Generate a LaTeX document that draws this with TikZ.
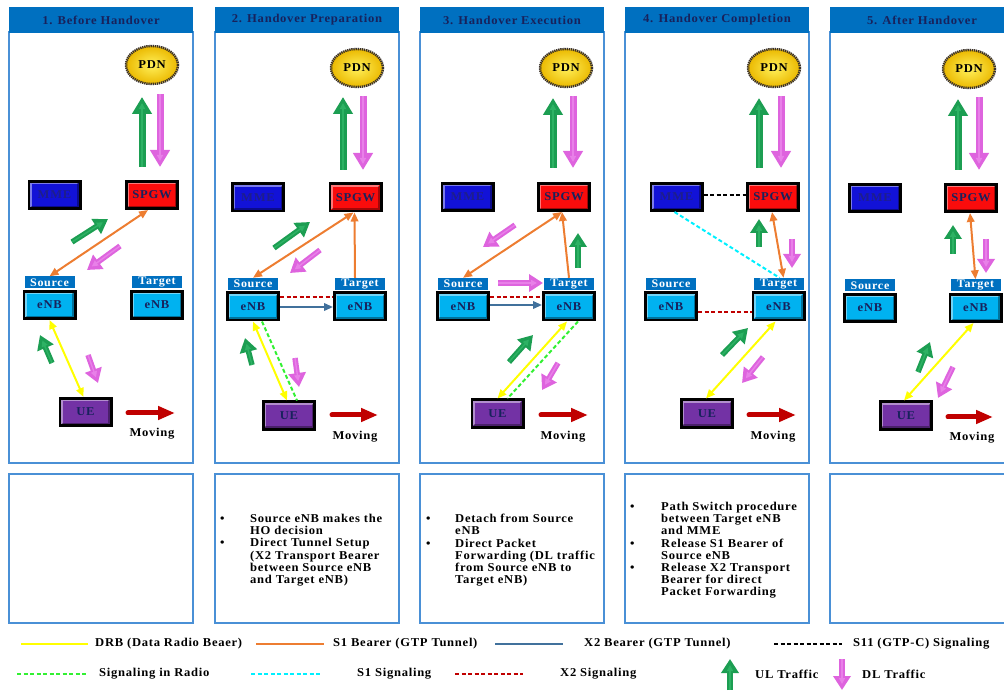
\documentclass[tikz,border=0pt]{standalone}
\usepackage{fontspec}
\setmainfont{Liberation Serif}[LetterSpace=6,FakeStretch=1.05]
\usetikzlibrary{arrows.meta,shapes.geometric,calc}

\definecolor{hdrblue}{RGB}{0,112,192}
\definecolor{frameblue}{RGB}{74,144,214}
\definecolor{navyink}{RGB}{24,34,92}
\definecolor{mmefill}{RGB}{18,18,215}
\definecolor{mmetext}{RGB}{30,30,140}
\definecolor{spgwfill}{RGB}{250,12,12}
\definecolor{enbfill}{RGB}{0,178,240}
\definecolor{uefill}{RGB}{115,50,165}
\definecolor{pdncore}{RGB}{255,240,90}
\definecolor{pdnrim}{RGB}{235,185,0}
\definecolor{pdnedge}{RGB}{60,50,40}
\definecolor{drbyellow}{RGB}{255,255,0}
\definecolor{s1orange}{RGB}{237,125,49}
\definecolor{x2blue}{RGB}{65,113,156}
\definecolor{radiogreen}{RGB}{50,240,50}
\definecolor{s1cyan}{RGB}{0,240,255}
\definecolor{x2red}{RGB}{192,0,0}
\definecolor{ulgreen}{RGB}{28,158,82}
\definecolor{ulhi}{RGB}{45,178,100}
\definecolor{dlpink}{RGB}{222,100,222}
\definecolor{dlhi}{RGB}{232,128,232}
\definecolor{movered}{RGB}{192,0,0}

\tikzset{
  txt/.style={font=\bfseries\fontsize{12}{12.2}\selectfont},
  bevel/.style={path picture={
      \draw[white,opacity=.45,line width=1.6pt]
        ([shift={(2.1pt,2.1pt)}]path picture bounding box.south west) |-
        ([shift={(-2.1pt,-2.1pt)}]path picture bounding box.north east);
      \draw[black,opacity=.35,line width=1.6pt]
        ([shift={(2.1pt,2.1pt)}]path picture bounding box.south west) -|
        ([shift={(-2.1pt,-2.1pt)}]path picture bounding box.north east);}},
  netbox/.style={draw=black, line width=2.6pt, minimum width=51.4pt,
    minimum height=27.4pt, inner sep=0pt, bevel, text=navyink,
    font=\bfseries\fontsize{12}{12}\selectfont},
  mmebox/.style={netbox, fill=mmefill, text=mmetext},
  spgwbox/.style={netbox, fill=spgwfill},
  enbbox/.style={netbox, fill=enbfill},
  uebox/.style={netbox, fill=uefill},
  role/.style={fill=hdrblue, text=white, minimum width=50pt, minimum height=12pt,
    inner sep=0pt, anchor=south, font=\bfseries\fontsize{11.5}{12}\selectfont},
  pdn/.style={ellipse, minimum width=52pt, minimum height=38pt, inner sep=0pt,
    inner color=pdncore, outer color=pdnrim,
    preaction={draw=gray!60, line width=2.4pt},
    draw=pdnedge, line width=2.4pt, dash pattern=on 1.3pt off .8pt,
    text=black, font=\bfseries\fontsize{12}{12}\selectfont},
  hdr/.style={fill=hdrblue, minimum width=184pt, minimum height=26pt, inner sep=0pt,
    text=navyink, font=\bfseries\fontsize{12}{12}\selectfont},
  panel/.style={draw=frameblue, line width=1.3pt, minimum width=184pt, inner sep=0pt},
  drb/.style={draw=drbyellow, line width=2pt},
  s1/.style={draw=s1orange, line width=2pt},
  x2/.style={draw=x2blue, line width=2pt},
  bothends/.style={{Triangle[length=9pt,width=7.5pt]}-{Triangle[length=9pt,width=7.5pt]}},
  oneend/.style={-{Triangle[length=9pt,width=7.5pt]}},
  sigdash/.style={line width=2pt, dash pattern=on 4pt off 2.5pt},
  radiosig/.style={sigdash, draw=radiogreen},
  s1sig/.style={sigdash, draw=s1cyan},
  x2sig/.style={sigdash, draw=x2red},
  s11sig/.style={sigdash, draw=black},
  ultraffic/.style={draw=ulgreen, line width=5.5pt, -{Triangle[length=14pt,width=17pt]},
    postaction={draw=ulhi, line width=1.4pt, shorten >=6pt, -{Triangle[length=6pt,width=6pt]}}},
  dltraffic/.style={draw=dlpink, line width=5.5pt, -{Triangle[length=14pt,width=17pt]},
    postaction={draw=dlhi, line width=1.4pt, shorten >=6pt, -{Triangle[length=6pt,width=6pt]}}},
  ulbig/.style={ultraffic, line width=7pt, -{Triangle[length=17pt,width=19pt]}},
  dlbig/.style={dltraffic, line width=7pt, -{Triangle[length=17pt,width=19pt]}},
  movarrow/.style={draw=movered, line width=5pt, line cap=round,
    -{Triangle[length=17pt,width=13pt]}},
}

\begin{document}
\begin{tikzpicture}[x=1pt,y=-1pt]
\useasboundingbox (0,0) rectangle (1004,692);

% panel frames, headers and note boxes
\foreach \i/\cx/\ttl in {1/101/1. Before Handover, 2/307/2. Handover Preparation,
    3/512/3. Handover Execution, 4/717/4. Handover Completion, 5/922/5. After Handover}{
  \node[panel, minimum height=431pt] (frame\i) at (\cx,247.5) {};
  \node[hdr] (head\i) at (\cx,20) {\ttl};
  \node[panel, minimum height=149pt] (note\i) at (\cx,548.5) {};
}

% ---------- 1. Before Handover ----------
\node[pdn] (pdn1) at (152,65) {PDN};
\node[spgwbox] (spgw1) at (152,195) {SPGW};
\node[mmebox] (mme1) at (54.5,195) {MME};
\node[enbbox] (src1) at (49.5,305) {eNB};
\node[role] (srcrole1) at ([yshift=1.3pt]src1.north) {Source};
\node[enbbox] (tgt1) at (157,305) {eNB};
\node[role] (tgtrole1) at ([yshift=1.3pt]tgt1.north) {Target};
\node[uebox] (ue1) at (85.5,412) {UE};
\coordinate (go1a) at (128,413); \coordinate (go1b) at (175,413);
\draw[movarrow] (go1a) -- (go1b);
\node[txt] (mv1) at (152,434) {Moving};
\draw[s1,bothends] ([xshift=-4pt]spgw1.south) -- (srcrole1.north);
\draw[drb,bothends] (src1.south) -- ([xshift=-2pt]ue1.north);
\draw[ulbig] (142,167) -- (142,97);
\draw[dlbig] (160,94) -- (160,167);
\draw[ultraffic] (72,242) -- (108,219);
\draw[dltraffic] (120,246) -- (87,270);
\draw[ultraffic] (52,363) -- (40,335);
\draw[dltraffic] (88,355) -- (98,383);

% ---------- 2. Handover Preparation ----------
\node[pdn] (pdn2) at (357,68) {PDN};
\node[spgwbox] (spgw2) at (355.5,197.5) {SPGW};
\node[mmebox] (mme2) at (258,197.5) {MME};
\node[enbbox] (src2) at (253,306.5) {eNB};
\node[role] (srcrole2) at ([yshift=1.3pt]src2.north) {Source};
\node[enbbox] (tgt2) at (360,306.5) {eNB};
\node[role] (tgtrole2) at ([yshift=1.3pt]tgt2.north) {Target};
\node[uebox] (ue2) at (289,415.5) {UE};
\coordinate (go2a) at (332,415); \coordinate (go2b) at (378,415);
\draw[movarrow] (go2a) -- (go2b);
\node[txt] (mv2) at (355,437) {Moving};
\draw[s1,bothends] ([xshift=-2pt]spgw2.south) -- (srcrole2.north);
\draw[s1,oneend] ([xshift=-5pt]tgtrole2.north) -- ([xshift=-1pt]spgw2.south);
\draw[x2sig] ([yshift=9.5pt]src2.east) -- ([yshift=9.5pt]tgt2.west);
\draw[x2,oneend] ([yshift=-0.5pt]src2.east) -- ([yshift=-0.5pt]tgt2.west);
\draw[drb,bothends] (src2.south) -- ([xshift=-2pt]ue2.north);
\draw[radiosig] ([xshift=9pt]src2.south) -- ([xshift=8pt]ue2.north);
\draw[ulbig] (343,170) -- (343,97);
\draw[dlbig] (363,96) -- (363,170);
\draw[ultraffic] (274,248) -- (310,222);
\draw[dltraffic] (320,250) -- (290,273);
\draw[ultraffic] (252,365) -- (245,338);
\draw[dltraffic] (295,358) -- (299,387);

% ---------- 3. Handover Execution ----------
\node[pdn] (pdn3) at (566,68) {PDN};
\node[spgwbox] (spgw3) at (564,197) {SPGW};
\node[mmebox] (mme3) at (467.5,197) {MME};
\node[enbbox] (src3) at (463,306.5) {eNB};
\node[role] (srcrole3) at ([yshift=1.3pt]src3.north) {Source};
\node[enbbox] (tgt3) at (569,306.5) {eNB};
\node[role] (tgtrole3) at ([yshift=1.3pt]tgt3.north) {Target};
\node[uebox] (ue3) at (497.5,413.5) {UE};
\coordinate (go3a) at (541,415); \coordinate (go3b) at (588,415);
\draw[movarrow] (go3a) -- (go3b);
\node[txt] (mv3) at (563,437) {Moving};
\draw[s1,bothends] ([xshift=-2pt]spgw3.south) -- (srcrole3.north);
\draw[s1,oneend] (tgtrole3.north) -- ([xshift=-2pt]spgw3.south);
\draw[x2sig] ([yshift=9.5pt]src3.east) -- ([yshift=9.5pt]tgt3.west);
\draw[x2,oneend] ([yshift=1.5pt]src3.east) -- ([yshift=1.5pt]tgt3.west);
\draw[drb,bothends] ([xshift=-2pt]tgt3.south) -- (ue3.north);
\draw[radiosig] ([xshift=9pt]tgt3.south) -- ([xshift=10pt]ue3.north);
\draw[ulbig] (553,168) -- (553,98);
\draw[dlbig] (573,96) -- (573,168);
\draw[dltraffic] (515,225) -- (483,247);
\draw[ultraffic] (578,268) -- (578,233);
\draw[dltraffic] (498,283) -- (543,283);
\draw[ultraffic] (509,362) -- (533,335);
\draw[dltraffic] (558,363) -- (542,390);

% ---------- 4. Handover Completion ----------
\node[pdn] (pdn4) at (774,68) {PDN};
\node[spgwbox] (spgw4) at (773,197) {SPGW};
\node[mmebox] (mme4) at (676.5,197) {MME};
\node[enbbox] (src4) at (671,306.5) {eNB};
\node[role] (srcrole4) at ([yshift=1.3pt]src4.north) {Source};
\node[enbbox] (tgt4) at (778.5,306.5) {eNB};
\node[role] (tgtrole4) at ([yshift=1.3pt]tgt4.north) {Target};
\node[uebox] (ue4) at (707,413.5) {UE};
\coordinate (go4a) at (749,415); \coordinate (go4b) at (796,415);
\draw[movarrow] (go4a) -- (go4b);
\node[txt] (mv4) at (773,437) {Moving};
\draw[s11sig] ([yshift=2pt]mme4.east) -- ([yshift=2pt]spgw4.west);
\draw[s1sig] ([xshift=-2pt]mme4.south) -- ([xshift=1pt]tgtrole4.north);
\draw[s1,bothends] ([xshift=-1pt]spgw4.south) -- ([xshift=5pt]tgtrole4.north);
\draw[x2sig] ([yshift=-5.5pt]src4.east) -- ([yshift=-5.5pt]tgt4.west);
\draw[drb,bothends] ([xshift=-3pt]tgt4.south) -- ([xshift=-1pt]ue4.north);
\draw[ulbig] (759,168) -- (759,98);
\draw[dlbig] (781,96) -- (781,168);
\draw[ultraffic] (759,247) -- (759,219);
\draw[dltraffic] (792,239) -- (792,268);
\draw[ultraffic] (722,355) -- (748,328);
\draw[dltraffic] (763,357) -- (742,383);

% ---------- 5. After Handover ----------
\node[pdn] (pdn5) at (969,69) {PDN};
\node[spgwbox] (spgw5) at (971,198) {SPGW};
\node[mmebox] (mme5) at (875,198) {MME};
\node[enbbox] (src5) at (870,308) {eNB};
\node[role] (srcrole5) at ([yshift=1.3pt]src5.north) {Source};
\node[enbbox] (tgt5) at (975.5,308) {eNB};
\node[role] (tgtrole5) at ([yshift=1.3pt]tgt5.north) {Target};
\node[uebox] (ue5) at (906,415.5) {UE};
\coordinate (go5a) at (948,417); \coordinate (go5b) at (993,417);
\draw[movarrow] (go5a) -- (go5b);
\node[txt] (mv5) at (972,438) {Moving};
\draw[s1,bothends] ([xshift=-1pt]spgw5.south) -- (tgtrole5.north);
\draw[drb,bothends] ([xshift=-2pt]tgt5.south) -- ([xshift=-2pt]ue5.north);
\draw[ulbig] (958,170) -- (958,99);
\draw[dlbig] (979,97) -- (979,170);
\draw[ultraffic] (953,254) -- (953,225);
\draw[dltraffic] (986,239) -- (986,273);
\draw[ultraffic] (918,372) -- (930,342);
\draw[dltraffic] (953,367) -- (938,398);

% ---------- notes ----------
\node[txt, anchor=north west, align=left, inner sep=0pt] (notetext2) at (220,514)
  {\makebox[30pt][l]{\textbullet}Source eNB makes the\\
   \hspace*{30pt}HO decision\\
   \makebox[30pt][l]{\textbullet}Direct Tunnel Setup\\
   \hspace*{30pt}(X2 Transport Bearer\\
   \hspace*{30pt}between Source eNB\\
   \hspace*{30pt}and Target eNB)};
\node[txt, anchor=north west, align=left, inner sep=0pt] (notetext3) at (426,514)
  {\makebox[29pt][l]{\textbullet}Detach from Source\\
   \hspace*{29pt}eNB\\
   \makebox[29pt][l]{\textbullet}Direct Packet\\
   \hspace*{29pt}Forwarding (DL traffic\\
   \hspace*{29pt}from Source eNB to\\
   \hspace*{29pt}Target eNB)};
\node[txt, anchor=north west, align=left, inner sep=0pt] (notetext4) at (630,502)
  {\makebox[31pt][l]{\textbullet}Path Switch procedure\\
   \hspace*{31pt}between Target eNB\\
   \hspace*{31pt}and MME\\
   \makebox[31pt][l]{\textbullet}Release S1 Bearer of\\
   \hspace*{31pt}Source eNB\\
   \makebox[31pt][l]{\textbullet}Release X2 Transport\\
   \hspace*{31pt}Bearer for direct\\
   \hspace*{31pt}Packet Forwarding};

% ---------- legend ----------
\draw[drb, line width=2.5pt] (21,644) -- (88,644);
\node[txt, anchor=west, inner sep=0pt] (lgdrb) at (95,644) {DRB (Data Radio Beaer)};
\draw[s1, line width=2.5pt] (256,644) -- (324,644);
\node[txt, anchor=west, inner sep=0pt] (lgs1) at (333,644) {S1 Bearer (GTP Tunnel)};
\draw[x2, line width=2.5pt] (495,644) -- (563,644);
\node[txt, anchor=west, inner sep=0pt] (lgx2) at (584,644) {X2 Bearer (GTP Tunnel)};
\draw[s11sig] (774,644) -- (842,644);
\node[txt, anchor=west, inner sep=0pt] (lgs11) at (853,644) {S11 (GTP-C) Signaling};
\draw[radiosig] (17,674) -- (86,674);
\node[txt, anchor=west, inner sep=0pt] (lgradio) at (99,674) {Signaling in Radio};
\draw[s1sig] (251,674) -- (320,674);
\node[txt, anchor=west, inner sep=0pt] (lgs1sig) at (357,674) {S1 Signaling};
\draw[x2sig] (455,674) -- (523,674);
\node[txt, anchor=west, inner sep=0pt] (lgx2sig) at (560,674) {X2 Signaling};
\draw[ultraffic] (730,690) -- (730,659);
\node[txt, anchor=west, inner sep=0pt] (lgul) at (755,674) {UL Traffic};
\draw[dltraffic] (842,659) -- (842,690);
\node[txt, anchor=west, inner sep=0pt] (lgdl) at (862,674) {DL Traffic};
\end{tikzpicture}
\end{document}
